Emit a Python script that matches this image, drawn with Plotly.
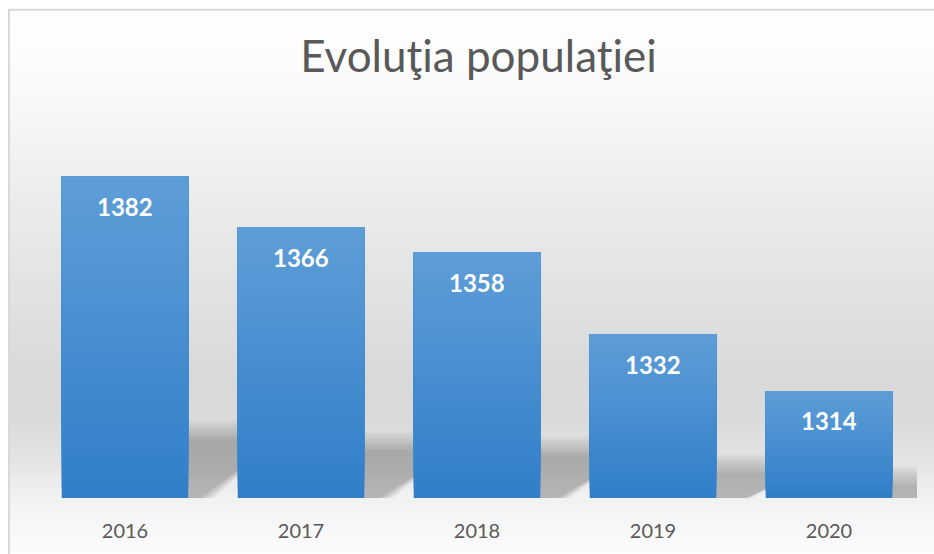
import numpy as np
import plotly.graph_objects as go

# ---- data ----
years = ["2016", "2017", "2018", "2019", "2020"]
population = [1382, 1366, 1358, 1332, 1314]
axis_min = 1280
axis_max = 1400
title_text = "Evoluţia populaţiei"

# ---- geometry (pixels) ----
W, H = 934, 554
ML, MR, MT, MB = 37, 17, 120, 53
PW = W - ML - MR
PH = H - MT - MB
bar_width = 0.719
pos = list(range(len(years)))

def px2paper_x(px):
    return (px - ML) / PW

def px2paper_y(py):
    return (H - MB - py) / PH

fig = go.Figure()

# ---- gradient bars: overlapping segments ----
K = 30
top_rgb = np.array([93, 157, 215])
bot_rgb = np.array([50, 127, 201])
for j in range(K):
    t = j / (K - 1)
    c = bot_rgb + (top_rgb - bot_rgb) * t
    col = "rgb(%d,%d,%d)" % tuple(int(round(v)) for v in c)
    bases = [axis_min + (v - axis_min) * j / K for v in population]
    heights = [(v - axis_min) * (K - j) / K for v in population]
    fig.add_trace(go.Bar(
        x=pos, y=heights, base=bases, width=bar_width,
        marker=dict(color=col, line=dict(width=0)),
        showlegend=False,
        hoverinfo="skip" if j > 0 else None,
        customdata=list(zip(years, population)),
        hovertemplate="%{customdata[0]}: %{customdata[1]}<extra></extra>",
    ))

shapes = []

# ---- chart-area background gradient ----
stops_y = [9, 60, 120, 200, 300, 380, 420, 460, 500, 520, 554]
stops_g = [254, 252, 246, 236, 225, 217, 218, 227, 241, 246, 251]
step = 3
for py in range(9, H, step):
    g = int(round(np.interp(py + step / 2, stops_y, stops_g)))
    shapes.append(dict(
        type="rect", xref="paper", yref="paper", layer="below",
        x0=px2paper_x(9), x1=px2paper_x(W + 5),
        y0=px2paper_y(py + step + 1), y1=px2paper_y(py),
        fillcolor="rgb(%d,%d,%d)" % (g, g, g), line=dict(width=0),
    ))

# ---- perspective shadows behind bars (soft, layered) ----
unit_x = PW / len(years)                 # px per category
unit_y = PH / (axis_max - axis_min)      # px per value unit
dx_px = 100
s_frac = 0.21
for i, v in zip(pos, population):
    h_px = (v - axis_min) * unit_y * s_frac
    for e in range(-10, 11, 2):
        ex = e / unit_x
        ey = e / unit_y
        xl = i - bar_width / 2 - ex
        xr = i + bar_width / 2 + ex
        dxu = dx_px / unit_x
        ytop = axis_min + (h_px / unit_y) + ey
        if ytop <= axis_min:
            continue
        yb = axis_min - 5
        path = "M %f,%f L %f,%f L %f,%f L %f,%f Z" % (
            xl, yb, xr, yb, xr + dxu, ytop, xl + dxu, ytop)
        shapes.append(dict(
            type="path", xref="x", yref="y", layer="below", path=path,
            fillcolor="rgba(0,0,0,0.025)", line=dict(width=0),
        ))

# ---- chart border ----
shapes.append(dict(
    type="rect", xref="paper", yref="paper", layer="below",
    x0=px2paper_x(9), x1=px2paper_x(W + 20),
    y0=px2paper_y(H + 20), y1=px2paper_y(9),
    line=dict(color="#d9d9d9", width=2), fillcolor="rgba(0,0,0,0)",
))

# ---- data labels ----
annotations = []
for i, v in zip(pos, population):
    annotations.append(dict(
        x=i, y=v, xref="x", yref="y", text=str(v), showarrow=False,
        yanchor="middle", yshift=-30,
        font=dict(family="Lato", size=24, color="white", weight="bold"),
    ))

fig.update_layout(
    width=W, height=H, autosize=False,
    margin=dict(l=ML, r=MR, t=MT, b=MB, pad=0),
    paper_bgcolor="white", plot_bgcolor="rgba(0,0,0,0)",
    barmode="overlay",
    title=dict(text=title_text, x=478.5 / W, xref="container", xanchor="center",
               y=1 - 57 / H, yref="container", yanchor="middle",
               font=dict(family="Lato", size=44, color="#595959")),
    xaxis=dict(range=[-0.5, len(years) - 0.5], tickvals=pos, ticktext=years,
               showgrid=False, showline=False, zeroline=False,
               ticks="", ticklabelstandoff=19, fixedrange=True,
               tickfont=dict(family="Lato", size=20, color="#595959")),
    yaxis=dict(range=[axis_min, axis_max], visible=False, showgrid=False,
               zeroline=False, fixedrange=True),
    shapes=shapes,
    annotations=annotations,
)

fig.write_html("out.html", config={"displayModeBar": False},
               post_script="document.body.style.margin='0';document.body.style.padding='0';")
